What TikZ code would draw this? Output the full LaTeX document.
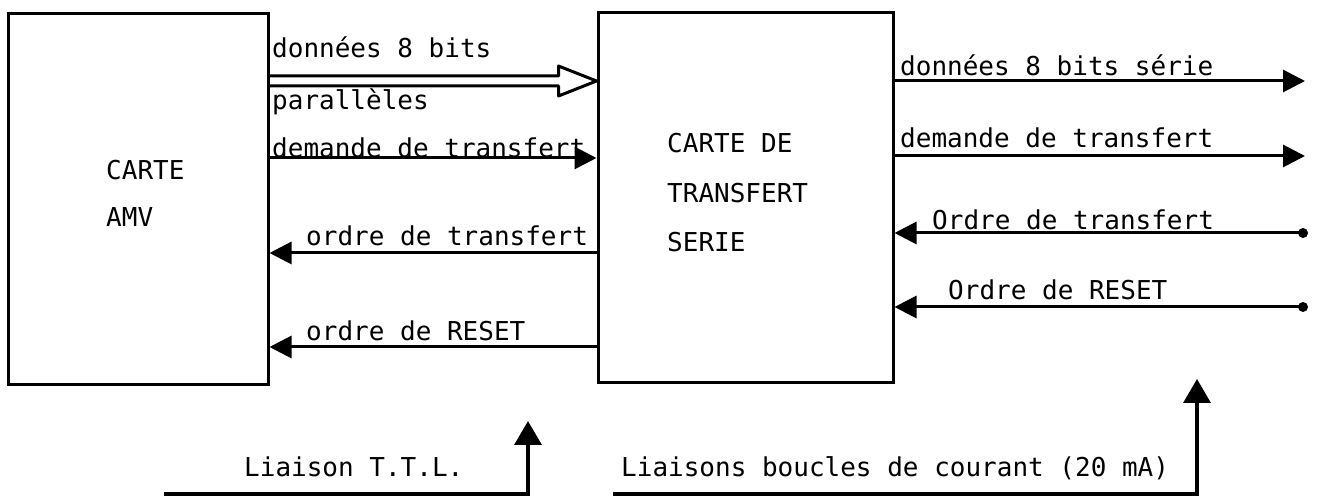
\documentclass[tikz,border=0pt]{standalone}
\usepackage{fontspec}
\setmonofont{DejaVu Sans Mono}
\usetikzlibrary{arrows.meta}

\begin{document}
\begin{tikzpicture}[x=1pt, y=1pt,
	every node/.style={black, font=\ttfamily\fontsize{26}{30}\selectfont, inner sep=0pt},
	carte/.style={draw, rectangle, line width=3pt},
	lbl/.style={anchor=base west},
	sig/.style={line width=3pt, -{Triangle[length=22pt,width=22pt]}},
	liaison/.style={line width=3.5pt, -{Triangle[length=24pt,width=27pt]}}]
	\useasboundingbox (0,0) rectangle (1324,497);

	\node[carte, minimum width=260pt, minimum height=371pt] (amv) at (138,297.5) {};
	\node[carte, minimum width=295pt, minimum height=370pt] (trans) at (745.5,299) {};

	\node[lbl] (amv1) at (106,317) {CARTE};
	\node[lbl] (amv2) at (106,270) {AMV};
	\node[lbl] (trans1) at (667,344) {CARTE DE};
	\node[lbl] (trans2) at (667,294) {TRANSFERT};
	\node[lbl] (trans3) at (667,245) {SERIE};

	\coordinate (busA) at (amv.east |- 0,416);
	\coordinate (busB) at (trans.west |- 0,416);
	\coordinate (r1) at (1305,416);
	\coordinate (r2) at (1305,341);
	\coordinate (r3) at (1303,264);
	\coordinate (r4) at (1303,190);
	\coordinate (ttl) at (164,3);
	\coordinate (ttlup) at (528,76);
	\coordinate (cl) at (613,3);
	\coordinate (clup) at (1197,118);

	\draw[line width=3pt, line join=round] ([yshift=5pt]busA) -- ([xshift=-38pt,yshift=5pt]busB)
		-- ([xshift=-38pt,yshift=15pt]busB) -- (busB) -- ([xshift=-38pt,yshift=-15pt]busB)
		-- ([xshift=-38pt,yshift=-5pt]busB) -- ([yshift=-5pt]busA);
	\draw[sig] (amv.east |- 0,339) -- (trans.west |- 0,339);
	\draw[sig] (trans.west |- 0,244) -- (amv.east |- 0,244);
	\draw[sig] (trans.west |- 0,150) -- (amv.east |- 0,150);

	\draw[sig] (trans.east |- r1) -- (r1);
	\draw[sig] (trans.east |- r2) -- (r2);
	\draw[sig] (r3) -- (trans.east |- r3);
	\draw[sig] (r4) -- (trans.east |- r4);
	\fill (r3) circle (5pt);
	\fill (r4) circle (5pt);

	\draw[liaison] (ttl) -| (ttlup);
	\draw[liaison] (cl) -| (clup);

	\node[lbl] (bus1) at (272,439) {données 8 bits};
	\node[lbl] (bus2) at (272,387) {parallèles};
	\node[lbl] (dem1) at (272,339) {demande de transfert};
	\node[lbl] (ord1) at (306,251) {ordre de transfert};
	\node[lbl] (rst1) at (306,156) {ordre de RESET};
	\node[lbl] (ser2) at (900,421) {données 8 bits série};
	\node[lbl] (dem2) at (900,349) {demande de transfert};
	\node[lbl] (ord2) at (932,267) {Ordre de transfert};
	\node[lbl] (rst2) at (948,197) {Ordre de RESET};
	\node[lbl] (ttllbl) at (244,20) {Liaison T.T.L.};
	\node[lbl] (cllbl) at (621,20) {Liaisons boucles de courant (20 mA)};
\end{tikzpicture}
\end{document}
